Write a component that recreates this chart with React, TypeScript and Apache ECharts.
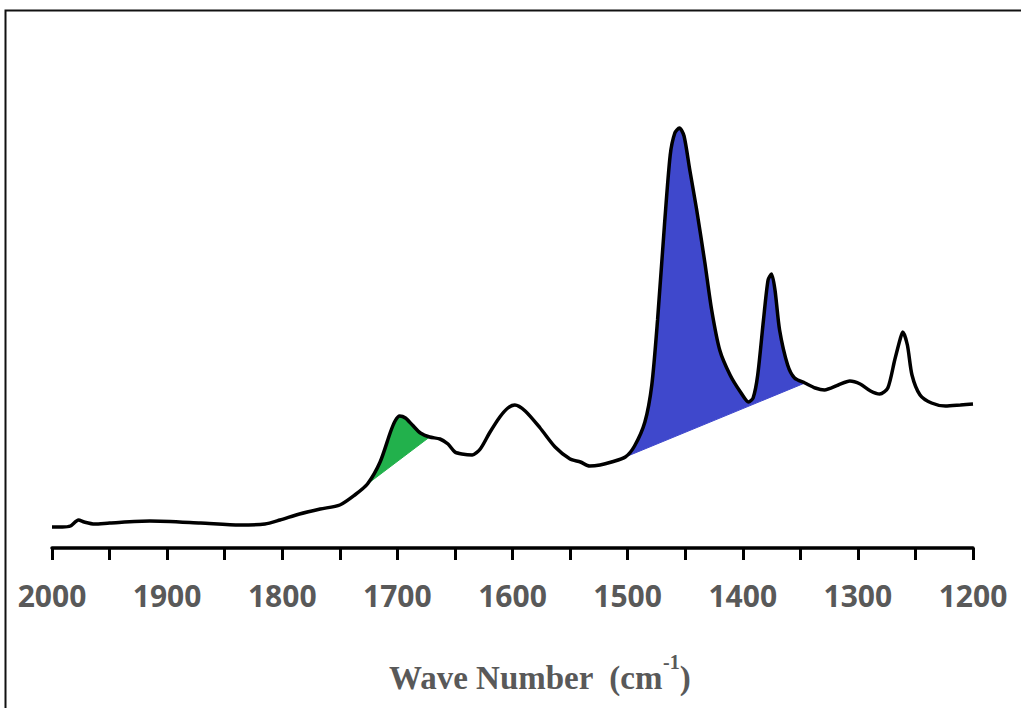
import React, { useEffect, useRef } from "react";
import * as echarts from "echarts";

// Spectrum: wave number (cm-1) and relative absorbance
const waveNumbers = [
  2000, 1991, 1984, 1977, 1972, 1963, 1950, 1915, 1871, 1837, 1815, 1802, 1785, 1767, 1750,
  1737, 1726, 1715, 1706, 1702, 1698, 1693, 1687, 1680, 1672, 1663, 1656, 1650, 1644, 1635,
  1628, 1620, 1611, 1604, 1598, 1589, 1576, 1563, 1550, 1541, 1533, 1524, 1514, 1502, 1494,
  1485, 1479, 1474, 1468, 1463, 1459, 1455, 1451, 1446, 1440, 1433, 1427, 1420, 1411, 1402,
  1395, 1391, 1387, 1382, 1378, 1375, 1372, 1368, 1361, 1355, 1346, 1337, 1329, 1317, 1307,
  1298, 1289, 1281, 1274, 1268, 1263, 1261, 1257, 1253, 1246, 1236, 1224, 1211, 1200,
];
const absorbance = [
  4.2, 4.2, 4.4, 5.6, 5.2, 4.8, 5.0, 5.4, 5.0, 4.6, 4.8, 5.6, 6.8, 7.8, 8.6,
  10.6, 12.8, 17.2, 23.2, 25.4, 26.4, 26.0, 24.6, 23.0, 22.2, 21.8, 20.8, 19.2, 18.8, 18.6,
  19.8, 23.0, 26.2, 28.0, 28.6, 27.4, 24.0, 20.2, 17.8, 17.2, 16.4, 16.6, 17.2, 18.2, 20.4,
  25.2, 32.6, 45.6, 64.6, 78.6, 83.0, 84.0, 82.4, 75.6, 67.6, 57.2, 47.6, 39.6, 34.6, 31.2,
  29.2, 30.0, 34.6, 45.6, 53.6, 54.8, 51.6, 43.6, 36.6, 34.0, 33.0, 32.0, 31.6, 32.6, 33.4,
  32.8, 31.4, 30.8, 32.0, 37.6, 42.0, 43.2, 40.6, 34.6, 30.6, 29.0, 28.4, 28.6, 28.8,
];

// Integrated bands: [start, end] wave numbers, area above a straight baseline
const carbonylBand = [1726, 1672];
const ch2ch3Band = [1502, 1346];

const xTicks = [2000, 1900, 1800, 1700, 1600, 1500, 1400, 1300, 1200];

const spectrum = waveNumbers.map((w, i) => [w, absorbance[i]]);

function bandPoints(band: number[]) {
  const hi = Math.max(band[0], band[1]);
  const lo = Math.min(band[0], band[1]);
  return spectrum.filter(([w]) => w <= hi && w >= lo);
}

function bandSeries(band: number[], color: string) {
  const pts = bandPoints(band);
  return {
    type: "custom",
    silent: true,
    z: 1,
    data: [0],
    renderItem: (_params: any, api: any) => ({
      type: "polygon",
      shape: { points: pts.map((p) => api.coord(p)) },
      style: { fill: color, stroke: color, lineWidth: 1 },
    }),
  };
}

export default function App() {
  const ref = useRef<HTMLDivElement>(null);

  useEffect(() => {
    if (!ref.current) return;
    const chart = echarts.init(ref.current, null, { renderer: "svg" });
    chart.setOption({
      animation: false,
      backgroundColor: "#ffffff",
      grid: { left: 52, right: 48, top: 48, bottom: 160 },
      xAxis: {
        type: "value",
        min: 1200,
        max: 2000,
        interval: 50,
        inverse: true,
        axisLine: { show: true, lineStyle: { color: "#000", width: 3.5 } },
        axisTick: { show: true, length: 12, lineStyle: { color: "#000", width: 3 } },
        splitLine: { show: false },
        axisLabel: {
          margin: 32,
          color: "#595959",
          fontFamily: "Open Sans",
          fontWeight: "bold",
          fontSize: 30,
          formatter: (v: number) => (xTicks.includes(v) ? String(v) : ""),
        },
      },
      yAxis: {
        type: "value",
        min: 0,
        max: 100,
        show: false,
      },
      graphic: [
        {
          type: "rect",
          silent: true,
          shape: { x: 5.5, y: 10.5, width: 1100, height: 800 },
          style: { fill: "none", stroke: "#111", lineWidth: 2 },
        },
        {
          type: "text",
          left: 389,
          top: 652,
          style: {
            text: "{t|Wave Number  (cm}{s|-1}{t|)}",
            rich: {
              t: {
                fontFamily: "Liberation Serif",
                fontWeight: "bold",
                fontSize: 33,
                fill: "#595959",
                lineHeight: 42,
                verticalAlign: "bottom",
              },
              s: {
                fontFamily: "Liberation Serif",
                fontWeight: "bold",
                fontSize: 20,
                fill: "#595959",
                lineHeight: 42,
                verticalAlign: "top",
              },
            },
          },
        },
      ],
      series: [
        bandSeries(carbonylBand, "#22b14c"),
        bandSeries(ch2ch3Band, "#3f48cc"),
        {
          type: "line",
          z: 3,
          data: spectrum,
          smooth: 0.25,
          showSymbol: false,
          symbol: "none",
          lineStyle: { color: "#000", width: 3.5 },
        },
      ],
    });
    return () => chart.dispose();
  }, []);

  return (
    <div
      ref={ref}
      style={{ position: "fixed", left: 0, top: 0, width: 1021, height: 708, background: "#fff" }}
    />
  );
}
